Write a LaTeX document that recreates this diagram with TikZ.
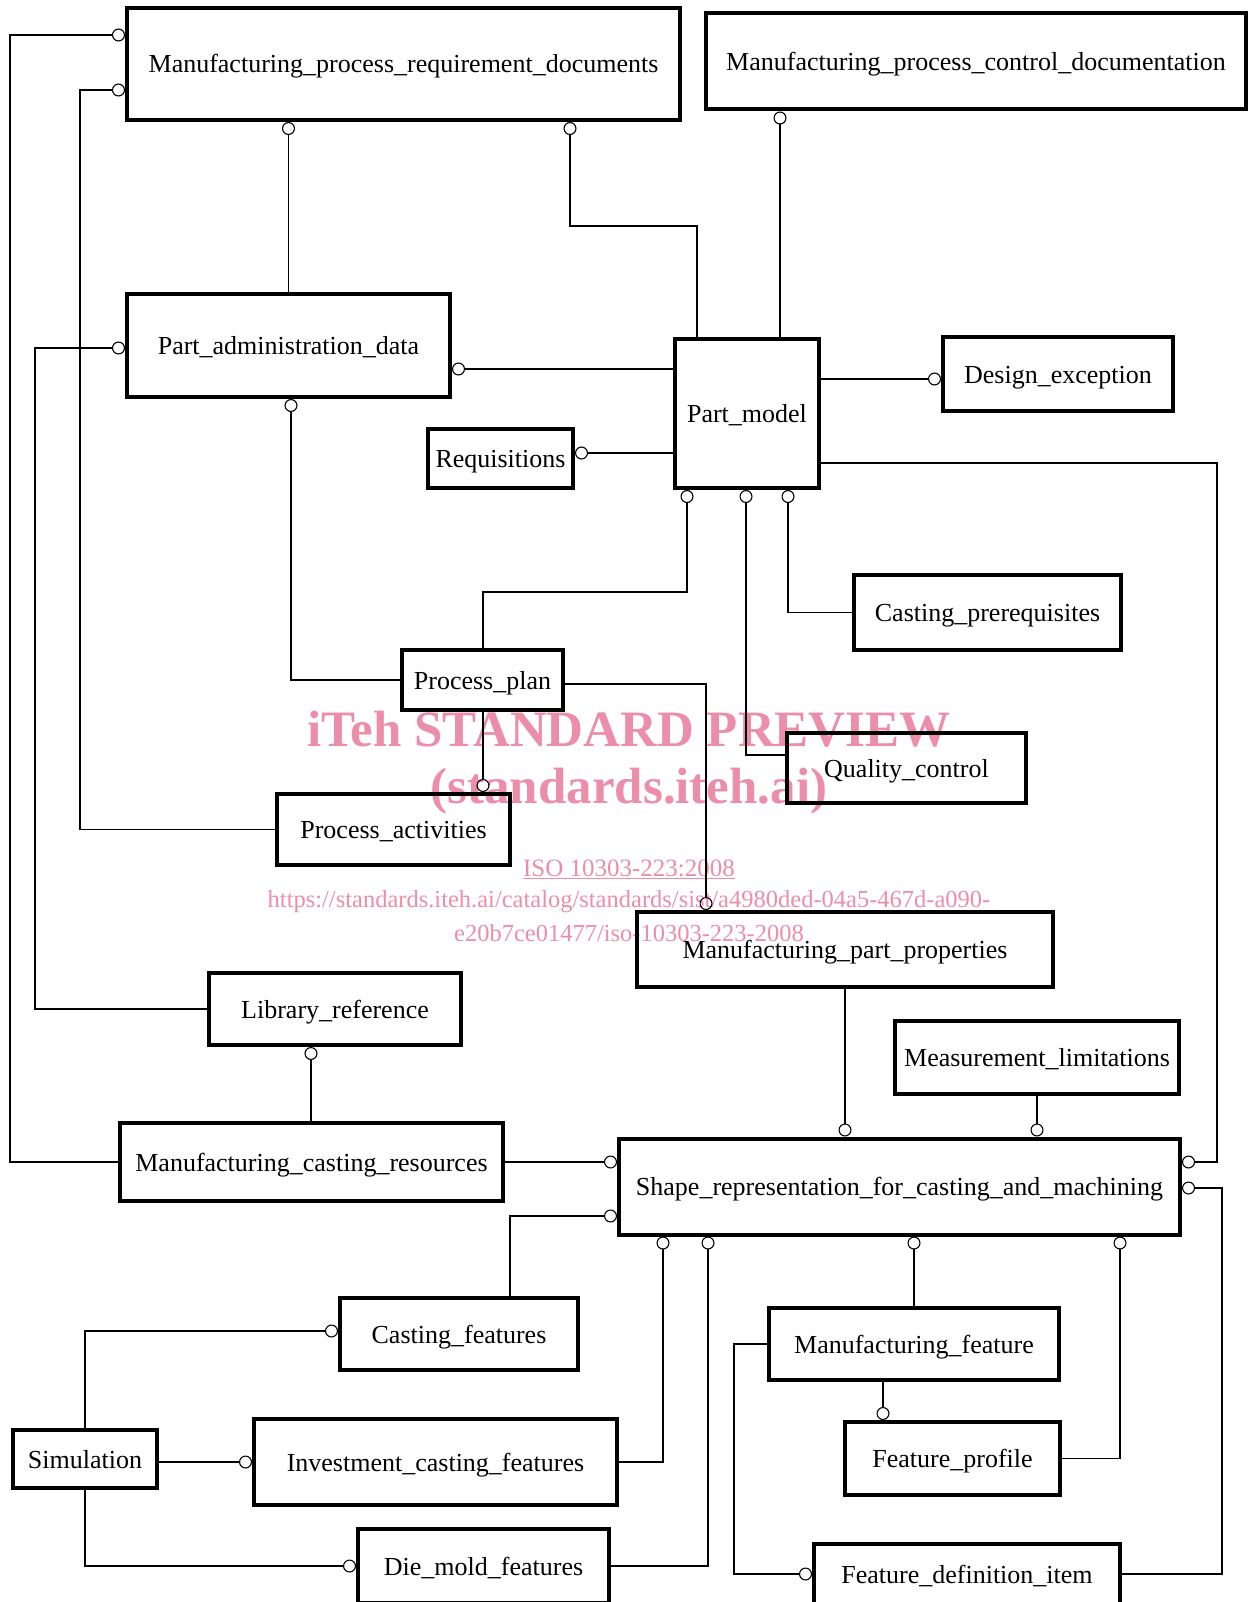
\documentclass[tikz,border=0pt]{standalone}
\usepackage{fontspec}
\setmainfont{Liberation Serif}
\usepackage{tikz}
\usetikzlibrary{
  arrows.meta,%
  calc,%
  positioning
}
\definecolor{wmpink}{RGB}{236,142,170}
\tikzset{>={Circle[open,length=13pt,width=13pt]}}
\tikzset{x=1pt, y=-1pt}
\tikzset{entity/.style={draw, line width=4pt, inner sep=2pt,
    text height=18pt, text depth=0pt,
    font=\fontsize{26}{31}\selectfont}}
\tikzset{every path/.style={line width=1.1pt}}

\begin{document}
\begin{tikzpicture}
  \useasboundingbox[fill=white] (0,0) rectangle (1250,1602);
  % watermark
  \begin{scope}[wmpink]
    \node (wmone) at (629,729) {\fontsize{51}{60}\selectfont\bfseries iTeh STANDARD PREVIEW};
    \node (wmtwo) at (629,791) {\fontsize{51}{60}\selectfont\bfseries (standards.iteh.ai)};
    \node (wmiso) at (629,869) {\fontsize{25}{30}\selectfont\underline{ISO 10303-223:2008}};
    \node (wmurl) at (629,902) {\fontsize{24.5}{30}\selectfont https://standards.iteh.ai/catalog/standards/sist/a4980ded-04a5-467d-a090-};
    \node (wmend) at (629,933) {\fontsize{24.5}{30}\selectfont e20b7ce01477/iso-10303-223-2008};
  \end{scope}
  % entities
  \node[entity, minimum width=553, minimum height=112] (mprd) at (403.5,64) {Manufacturing\_process\_requirement\_documents};
  \node[entity, minimum width=540, minimum height=96] (mpcd) at (976,61.5) {Manufacturing\_process\_control\_documentation};
  \node[entity, minimum width=323, minimum height=103] (pad) at (288.5,345.5) {Part\_administration\_data};
  \node[entity, minimum width=144, minimum height=149] (pm) at (747,413.5) {Part\_model};
  \node[entity, minimum width=230, minimum height=74] (de) at (1058,374) {Design\_exception};
  \node[entity, minimum width=145, minimum height=59] (req) at (500.5,458.5) {Requisitions};
  \node[entity, minimum width=267, minimum height=75] (cp) at (987.5,612.5) {Casting\_prerequisites};
  \node[entity, minimum width=161, minimum height=60] (pp) at (482.5,680) {Process\_plan};
  \node[entity, minimum width=239, minimum height=70] (qc) at (906.5,768) {Quality\_control};
  \node[entity, minimum width=233, minimum height=71] (pa) at (393.5,829.5) {Process\_activities};
  \node[entity, minimum width=416, minimum height=75] (mpp) at (845,949.5) {Manufacturing\_part\_properties};
  \node[entity, minimum width=252, minimum height=72] (lr) at (335,1009) {Library\_reference};
  \node[entity, minimum width=284, minimum height=73] (ml) at (1037,1057.5) {Measurement\_limitations};
  \node[entity, minimum width=383, minimum height=78] (mcr) at (311.5,1162) {Manufacturing\_casting\_resources};
  \node[entity, minimum width=561, minimum height=96] (srcm) at (899.5,1186.5) {Shape\_representation\_for\_casting\_and\_machining};
  \node[entity, minimum width=238, minimum height=72] (cf) at (459,1334) {Casting\_features};
  \node[entity, minimum width=290, minimum height=72] (mf) at (914,1344) {Manufacturing\_feature};
  \node[entity, minimum width=144, minimum height=58] (sim) at (85,1459) {Simulation};
  \node[entity, minimum width=363, minimum height=86] (icf) at (435.5,1462) {Investment\_casting\_features};
  \node[entity, minimum width=215, minimum height=73] (fp) at (952.5,1458.5) {Feature\_profile};
  \node[entity, minimum width=251, minimum height=74] (dmf) at (483.5,1566) {Die\_mold\_features};
  \node[entity, minimum width=306, minimum height=60] (fdi) at (967,1574) {Feature\_definition\_item};
  % links
  \draw[<-] (mprd.west |- 0,35) -| (10,1162) -- (mcr.west);
  \draw[<-] (mprd.west |- 0,90) -| (80,829.5) -- (pa.west);
  \draw[<-] (pad.west |- 0,348) -| (35,1009) -- (lr.west);
  \draw[<-] (mprd.south -| pad.north) -- (pad.north);
  \draw[<-] (mprd.south -| 570,0) |- (697,226) -- (pm.north -| 697,0);
  \draw[<-] (mpcd.south -| 780,0) -- (pm.north -| 780,0);
  \draw[<-] (pad.east |- 0,369) -- (pm.west |- 0,369);
  \draw[->] (pm.east |- 0,379) -- (de.west |- 0,379);
  \draw[<-] (req.east |- 0,453) -- (pm.west |- 0,453);
  \draw[->] (pm.east |- 0,463) -| (1217,1162) -- (srcm.east |- 0,1162);
  \draw[<-] (pm.south -| 687,0) |- (483,592) -- (pp.north -| 483,0);
  \draw[<-] (pm.south -| 746,0) |- (qc.west |- 0,755);
  \draw[<-] (pm.south -| 788,0) |- (cp.west);
  \draw[<-] (pad.south -| 291,0) |- (pp.west);
  \draw[->] (pp.south -| 483,0) -- (pa.north -| 483,0);
  \draw[->] (pp.east |- 0,684) -| (mpp.north -| 706,0);
  \draw[<-] (lr.south -| 311,0) -- (mcr.north -| 311,0);
  \draw[->] (mcr.east) -- (srcm.west |- mcr.east);
  \draw[<-] (srcm.west |- 0,1216) -| (cf.north -| 510,0);
  \draw[->] (mpp.south) -- (srcm.north -| mpp.south);
  \draw[->] (ml.south) -- (srcm.north -| ml.south);
  \draw[<-] (srcm.east |- 0,1188) -| (1222,1574) -- (fdi.east);
  \draw[<-] (srcm.south -| 663,0) |- (icf.east);
  \draw[<-] (srcm.south -| 708,0) |- (dmf.east);
  \draw[<-] (srcm.south -| mf.north) -- (mf.north);
  \draw[<-] (srcm.south -| 1120,0) |- (fp.east);
  \draw[->] (mf.south -| 883,0) -- (fp.north -| 883,0);
  \draw[->] (mf.west) -| (734,1574) -- (fdi.west);
  \draw[<-] (cf.west |- 0,1331) -| (sim.north);
  \draw[->] (sim.east |- icf.west) -- (icf.west);
  \draw[->] (sim.south) |- (dmf.west);
\end{tikzpicture}
\end{document}
